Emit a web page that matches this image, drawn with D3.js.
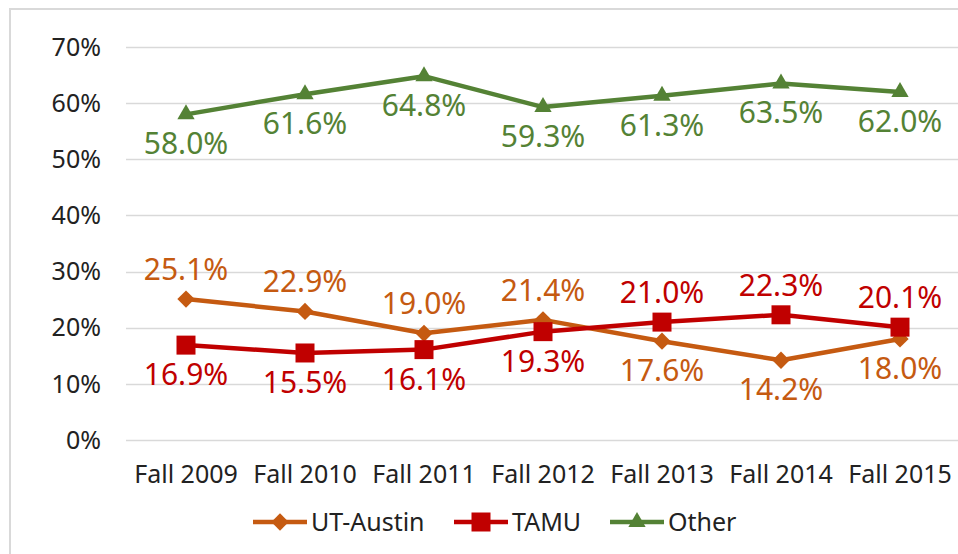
<!DOCTYPE html>
<html><head><meta charset="utf-8">
<script src="https://cdn.jsdelivr.net/npm/d3@7"></script>
<style>
html,body{margin:0;padding:0;background:#fff;overflow:hidden}
svg{display:block;font-family:"Noto Sans",sans-serif}
</style></head>
<body>
<svg id="chart" width="958" height="554"></svg>
<script>
const categories = ["Fall 2009","Fall 2010","Fall 2011","Fall 2012","Fall 2013","Fall 2014","Fall 2015"];
const utAustin = [25.1, 22.9, 19.0, 21.4, 17.6, 14.2, 18.0];
const tamu     = [16.9, 15.5, 16.1, 19.3, 21.0, 22.3, 20.1];
const other    = [58.0, 61.6, 64.8, 59.3, 61.3, 63.5, 62.0];
const yTicks   = [0, 10, 20, 30, 40, 50, 60, 70];
const utLabelPos    = ["above","above","above","above","below","below","below"];
const tamuLabelPos  = ["below","below","below","below","above","above","above"];
const otherLabelPos = ["below","below","below","below","below","below","below"];

const series = [
  {name:"UT-Austin", values:utAustin, color:"#C55A11", symbol:"diamond", pos:utLabelPos},
  {name:"TAMU", values:tamu, color:"#C00000", symbol:"square", pos:tamuLabelPos},
  {name:"Other", values:other, color:"#548235", symbol:"triangle", pos:otherLabelPos}
];

const svg = d3.select("#chart");
// chart border (cropped at right/bottom)
svg.append("rect").attr("x",10).attr("y",9).attr("width",1000).attr("height",600)
  .attr("fill","none").attr("stroke","#d9d9d9").attr("stroke-width",2);

const x = d3.scaleBand().domain(categories).range([126.5, 959.5]);
const y = d3.scaleLinear().domain([0,70]).range([440,47]);

// gridlines
svg.append("g").selectAll("line").data(yTicks).join("line")
  .attr("x1",126).attr("x2",960)
  .attr("y1",d=>Math.round(y(d))+0.5).attr("y2",d=>Math.round(y(d))+0.5)
  .attr("stroke","#d9d9d9").attr("stroke-width",1.5);

// y axis
const yAxis = d3.axisLeft(y).tickValues(yTicks).tickFormat(d=>d+"%").tickSize(0).tickPadding(0);
const gy = svg.append("g").attr("transform","translate(101,0)").call(yAxis);
gy.select(".domain").remove();
gy.selectAll("text").attr("font-size",25).attr("fill","#222").attr("font-family","Noto Sans")
  .attr("dy","0.33em");

// x axis
const xAxis = d3.axisBottom(x).tickSize(0).tickPadding(0);
const gx = svg.append("g").attr("transform","translate(0,483)").call(xAxis);
gx.select(".domain").remove();
gx.selectAll("text").attr("font-size",25).attr("fill","#222").attr("font-family","Noto Sans")
  .attr("dy",0).attr("y",0);

function symbolPath(kind){
  if(kind==="diamond") return d3.symbol(d3.symbolSquare, 150)();
  if(kind==="square") return d3.symbol(d3.symbolSquare, 361)();
  return d3.symbol(d3.symbolTriangle, 130)();
}
function symbolRotate(kind){ return kind==="diamond" ? " rotate(45)" : ""; }

const cx = d => x(d) + x.bandwidth()/2;
const line = d3.line().x((d,i)=>cx(categories[i])).y(d=>y(d));

series.forEach(s=>{
  const g = svg.append("g");
  g.append("path").datum(s.values).attr("d",line)
    .attr("fill","none").attr("stroke",s.color).attr("stroke-width",4.5)
    .attr("stroke-linejoin","round");
  g.selectAll("path.m").data(s.values).join("path").attr("class","m")
    .attr("d",symbolPath(s.symbol)).attr("fill",s.color)
    .attr("transform",(d,i)=>`translate(${cx(categories[i])},${y(d)})${symbolRotate(s.symbol)}`);
  g.selectAll("text").data(s.values).join("text")
    .attr("x",(d,i)=>cx(categories[i]))
    .attr("y",(d,i)=> s.pos[i]==="above" ? y(d)-19 : y(d)+40)
    .attr("text-anchor","middle").attr("font-size",30).attr("fill",s.color)
    .text(d=>d.toFixed(1)+"%");
});

// legend
const legendItems = [
  {s:series[0], x0:253},
  {s:series[1], x0:454},
  {s:series[2], x0:610}
];
const ly = 522;
legendItems.forEach(it=>{
  const g = svg.append("g");
  g.append("line").attr("x1",it.x0).attr("x2",it.x0+54).attr("y1",ly).attr("y2",ly)
    .attr("stroke",it.s.color).attr("stroke-width",4.5);
  g.append("path").attr("d",symbolPath(it.s.symbol)).attr("fill",it.s.color)
    .attr("transform",`translate(${it.x0+27},${ly})${symbolRotate(it.s.symbol)}`);
  g.append("text").attr("x",it.x0+58).attr("y",ly+9).attr("font-size",25).attr("fill","#222")
    .text(it.s.name);
});
</script>
</body></html>
